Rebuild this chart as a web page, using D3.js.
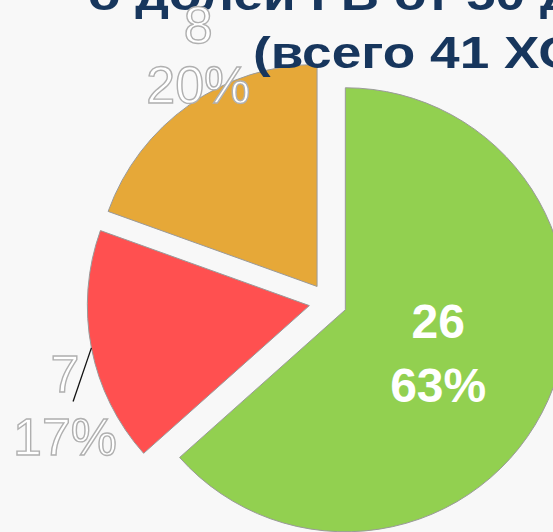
<!DOCTYPE html>
<html>
<head>
<meta charset="utf-8">
<script src="https://cdn.jsdelivr.net/npm/d3@7"></script>
<style>
  body { margin: 0; background: #f8f8f8; }
  svg { display: block; }
</style>
</head>
<body>
<div id="chart"></div>
<script>
// pie values, clockwise from 12 o'clock
var counts = [26, 7, 8];
var sliceColors = ["#92d050", "#ff5050", "#e6a838"];
var titleLines = ["о долей ГВ от 50 до 100%", "(всего 41 ХО)"];

var width = 553, height = 532;
var cx = 328, cy = 302, radius = 222, explode = 19;

var svg = d3.select("#chart")
  .append("svg")
    .attr("width", width)
    .attr("height", height);

svg.append("rect")
  .attr("width", width)
  .attr("height", height)
  .attr("fill", "#f8f8f8");

var total = d3.sum(counts);

var pie = d3.pie().sort(null).value(function(d) { return d; });
var arcs = pie(counts);

var arc = d3.arc().innerRadius(0).outerRadius(radius);

// point at angle a (radians, clockwise from top) and distance r
function polar(a, r) { return [r * Math.sin(a), -r * Math.cos(a)]; }

var deg = Math.PI / 180;

var slices = svg.append("g").selectAll("g")
  .data(arcs)
  .enter()
  .append("g")
    .attr("transform", function(d) {
      var mid = (d.startAngle + d.endAngle) / 2;
      var p = polar(mid, explode);
      return "translate(" + (cx + p[0]) + "," + (cy + p[1]) + ")";
    });

slices.append("path")
  .attr("d", arc)
  .attr("fill", function(d, i) { return sliceColors[i]; })
  .attr("stroke", "#9a9a9a")
  .attr("stroke-width", 1);

// title, mostly cut off by the frame; glyphs are stretched wide
var title = svg.append("g")
  .attr("transform", "scale(1.21,1)")
  .style("font-family", "Liberation Sans, Arial, sans-serif")
  .style("font-size", "44px")
  .style("font-weight", "bold")
  .attr("fill", "#17365d");

title.append("text").attr("x", 88 / 1.21).attr("y", 10).text(titleLines[0]);
title.append("text").attr("x", 253 / 1.21).attr("y", 68).text(titleLines[1]);

// label anchors relative to each slice vertex, and line gap
var labelAt = [
  {a: 106.8 * deg, r: 97, gap: 64},
  {a: 250.6 * deg, r: 259, gap: 63},
  {a: 334.0 * deg, r: 271, gap: 60}
];

// leader line for the red slice
var red = arcs[1];
var redMid = (red.startAngle + red.endAngle) / 2;
var l0 = polar(redMid, radius), l1 = polar(247.9 * deg, 255);
slices.filter(function(d, i) { return i === 1; })
  .append("line")
    .attr("x1", l0[0]).attr("y1", l0[1])
    .attr("x2", l1[0]).attr("y2", l1[1])
    .attr("stroke", "#111")
    .attr("stroke-width", 1.3);

// labels go in their own layer, above the title
var labels = svg.append("g").selectAll("g")
  .data(arcs)
  .enter()
  .append("g")
    .attr("transform", function(d) {
      var mid = (d.startAngle + d.endAngle) / 2;
      var p = polar(mid, explode);
      return "translate(" + (cx + p[0]) + "," + (cy + p[1]) + ")";
    });

labels.each(function(d, i) {
  var g = d3.select(this);
  var p = polar(labelAt[i].a, labelAt[i].r);
  var inside = i === 0;
  var lines = [String(d.value), Math.round(d.value / total * 100) + "%"];
  lines.forEach(function(t, k) {
    g.append("text")
      .attr("x", p[0])
      .attr("y", p[1] + k * labelAt[i].gap)
      .attr("text-anchor", "middle")
      .style("font-family", "Liberation Sans, Arial, sans-serif")
      .style("font-size", inside ? "48px" : "52px")
      .style("font-weight", inside ? "bold" : "normal")
      .attr("fill", "#ffffff")
      .attr("stroke", inside ? "none" : "#b0b0b0")
      .attr("stroke-width", 1.4)
      .text(t);
  });
});
</script>
</body>
</html>
